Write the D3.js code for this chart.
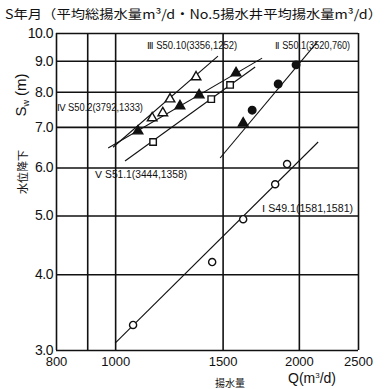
<!DOCTYPE html>
<html><head><meta charset="utf-8">
<script src="https://cdn.jsdelivr.net/npm/d3@7"></script>
<style>
body{margin:0;background:#fff;}
svg{display:block;}
text{fill:#111;}
</style></head>
<body><svg id="c" width="387" height="389"></svg>
<script>
// ---- data ----
const xGrid = [800, 900, 1000, 1500, 2000, 2500];
const xTickLabels = ["800", "", "1000", "1500", "2000", "2500"];
const yGrid = [3, 4, 5, 6, 7, 8, 9, 10];
const yTickLabels = ["3.0", "4.0", "5.0", "6.0", "7.0", "8.0", "9.0", "10.0"];

// Series I  S49.1 (open circles)
const seriesI_Q = [1070, 1442, 1621, 1829, 1913];
const seriesI_S = [3.30, 4.19, 4.93, 5.63, 6.08];
const lineI_Q = [1000, 2151];
const lineI_S = [3.08, 6.61];
// Series II  S50.1 (filled circles, plus one filled triangle)
const seriesII_Q = [1677, 1850, 1979];
const seriesII_S = [7.46, 8.24, 8.86];
const seriesIIExtra_Q = [1621];
const seriesIIExtra_S = [7.10];
const lineII_Q = [1486, 2143];
const lineII_S = [6.22, 9.66];
// Series III  S50.10 (open triangles)
const seriesIII_Q = [1150, 1197, 1230, 1357];
const seriesIII_S = [7.24, 7.38, 7.78, 8.46];
const lineIII_Q = [992, 1474];
const lineIII_S = [6.48, 9.16];
// Series IV  S50.2 (filled triangles)
const seriesIV_Q = [1090, 1277, 1373, 1578];
const seriesIV_S = [6.89, 7.58, 7.90, 8.59];
const lineIV_Q = [974, 1741];
const lineIV_S = [6.46, 9.09];
// Series V  S51.1 (open squares)
const seriesV_Q = [1154, 1437, 1543];
const seriesV_S = [6.61, 7.78, 8.21];
const lineV_Q = [1038, 1696];
const lineV_S = [6.15, 8.79];

const labelTexts = ["Ⅲ S50.10(3356,1252)", "Ⅱ S50.1(3520,760)", "Ⅳ S50.2(3792,1333)", "Ⅴ S51.1(3444,1358)", "Ⅰ S49.1(1581,1581)"];
const labelQ = [1128, 1829, 803, 927, 1741];
const labelS = [9.41, 9.41, 7.44, 5.76, 5.07];

const titleText = "S年月（平均総揚水量m³/d・No.5揚水井平均揚水量m³/d）";

// ---- drawing ----
const svg = d3.select("#c");
const L = 56, R = 358, T = 33, B = 350;
const x = d3.scaleLog().domain([800, 2500]).range([L, R]);
const y = d3.scaleLog().domain([3, 10]).range([B, T]);
const jp = "'Noto Sans CJK JP', sans-serif";
const num = "'Liberation Sans', Arial, sans-serif";

// title
svg.append("text").attr("x", 5).attr("y", 19)
  .attr("font-family", jp).attr("font-size", 12.5)
  .attr("textLength", 377).attr("lengthAdjust", "spacingAndGlyphs")
  .text(titleText);

// x grid + labels
const xAxis = d3.axisBottom(x).tickValues(xGrid)
  .tickFormat((d, i) => xTickLabels[i]).tickSize(-(B - T)).tickPadding(7);
const gx = svg.append("g").attr("transform", `translate(0,${B})`).call(xAxis);
gx.select(".domain").remove();
gx.selectAll("line").attr("stroke", "#111").attr("stroke-width", 1.6);
gx.selectAll("text").attr("font-family", num).attr("font-size", 13).attr("fill", "#111");

// y grid + labels
const yAxis = d3.axisLeft(y).tickValues(yGrid)
  .tickFormat((d, i) => yTickLabels[i]).tickSize(-(R - L)).tickPadding(3);
const gy = svg.append("g").attr("transform", `translate(${L},0)`).call(yAxis);
gy.select(".domain").remove();
gy.selectAll("line").attr("stroke", "#111").attr("stroke-width", 1.6);
gy.selectAll("text").attr("font-family", num).attr("font-size", 14).attr("fill", "#111")
  .attr("letter-spacing", -0.5);
gy.selectAll("text").filter((d) => d === 10).attr("fill", "#999");

// fitted lines
const lines = [[lineI_Q, lineI_S], [lineII_Q, lineII_S], [lineIII_Q, lineIII_S], [lineIV_Q, lineIV_S], [lineV_Q, lineV_S]];
const lineGen = d3.line().x(d => x(d[0])).y(d => y(d[1]));
lines.forEach(([q, s]) => {
  svg.append("path").datum(q.map((v, i) => [v, s[i]]))
    .attr("d", lineGen).attr("fill", "none").attr("stroke", "#111").attr("stroke-width", 1.1);
});

// markers
function pts(q, s) { return q.map((v, i) => [v, s[i]]); }
function drawMarkers(q, s, symType, size, filled) {
  svg.append("g").selectAll("path").data(pts(q, s)).join("path")
    .attr("transform", d => `translate(${x(d[0])},${y(d[1])})`)
    .attr("d", d3.symbol().type(symType).size(size))
    .attr("fill", filled ? "#111" : "#fff")
    .attr("stroke", "#111").attr("stroke-width", 1.4);
}
drawMarkers(seriesI_Q, seriesI_S, d3.symbolCircle, 40, false);
drawMarkers(seriesII_Q, seriesII_S, d3.symbolCircle, 45, true);
drawMarkers(seriesIIExtra_Q, seriesIIExtra_S, d3.symbolTriangle, 40, true);
drawMarkers(seriesIII_Q, seriesIII_S, d3.symbolTriangle, 40, false);
drawMarkers(seriesIV_Q, seriesIV_S, d3.symbolTriangle, 40, true);
drawMarkers(seriesV_Q, seriesV_S, d3.symbolSquare, 42, false);

// series labels
const labelWidths = [90, 75, 86, 92, 91];
labelTexts.forEach((t, i) => {
  svg.append("text").attr("x", x(labelQ[i])).attr("y", y(labelS[i]))
    .attr("font-family", num).attr("font-size", 10)
    .attr("textLength", labelWidths[i]).attr("lengthAdjust", "spacingAndGlyphs")
    .text(t);
});

// y axis labels
const ylab = svg.append("text").attr("transform", "translate(26,95) rotate(-90)")
  .attr("text-anchor", "middle").attr("font-family", num).attr("font-size", 15);
ylab.append("tspan").text("S");
ylab.append("tspan").attr("font-size", 9).attr("dy", 3).text("w");
ylab.append("tspan").attr("dy", -3).text(" (m)");
svg.append("text").attr("transform", "translate(27,172) rotate(-90)")
  .attr("text-anchor", "middle").attr("font-family", jp).attr("font-size", 11)
  .attr("fill", "#333").text("水位降下");

// x axis labels
svg.append("text").attr("x", 230).attr("y", 387).attr("text-anchor", "middle")
  .attr("font-family", jp).attr("font-size", 10).attr("fill", "#333").text("揚水量");
const xl = svg.append("text").attr("x", 288).attr("y", 383)
  .attr("font-family", num).attr("font-size", 14);
xl.append("tspan").text("Q(m");
xl.append("tspan").attr("font-size", 8).attr("dy", -5).text("3");
xl.append("tspan").attr("dy", 5).text("/d)");
</script></body></html>
